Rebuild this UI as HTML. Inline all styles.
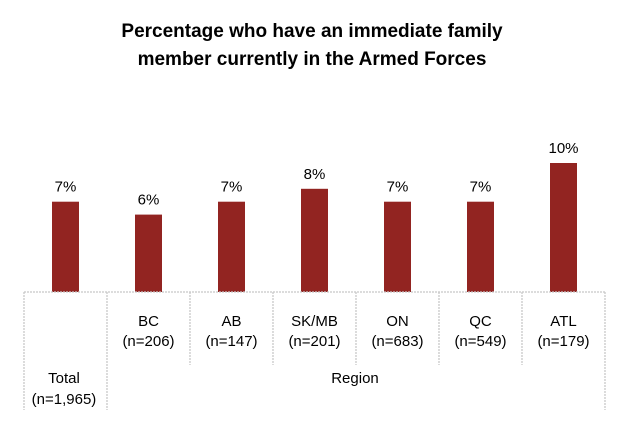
<!DOCTYPE html>
<html><head><meta charset="utf-8"><style>
body{margin:0;background:#fff;}
svg text{font-family:"Liberation Sans",sans-serif;fill:#000;}
</style></head><body>
<svg width="620" height="421" viewBox="0 0 620 421">
<text x="312" y="37" text-anchor="middle" font-size="19" font-weight="bold">Percentage who have an immediate family</text>
<text x="312" y="65" text-anchor="middle" font-size="19" font-weight="bold">member currently in the Armed Forces</text>
<g id="bars"></g>
<g id="axis" stroke="#c8c8c8" stroke-width="1.3" stroke-dasharray="2,1"></g>
<g id="labels"></g>
<text x="64" y="383" text-anchor="middle" font-size="15">Total</text>
<text x="64" y="404" text-anchor="middle" font-size="15">(n=1,965)</text>
<text x="355" y="383" text-anchor="middle" font-size="15">Region</text>
</svg>
<script>
const categories=["Total","BC","AB","SK/MB","ON","QC","ATL"];
const sampleSizes=["","(n=206)","(n=147)","(n=201)","(n=683)","(n=549)","(n=179)"];
const values=[7,6,7,8,7,7,10];
const NS="http://www.w3.org/2000/svg";
const x0=24,step=83,base=292,pxPer=12.9,bw=27;
const xc=i=>x0+step*i+step/2;
const y=v=>base-v*pxPer;
const bars=document.getElementById('bars'),axis=document.getElementById('axis'),labels=document.getElementById('labels');
function mk(tag,attrs,parent){const e=document.createElementNS(NS,tag);for(const k in attrs)e.setAttribute(k,attrs[k]);parent.appendChild(e);return e;}
values.forEach((v,i)=>{
  const r=mk('rect',{x:xc(i)-bw/2,y:y(v),width:bw,height:base-y(v),fill:'#922421'},bars);
  
  
  const t=mk('text',{x:xc(i),y:y(v)-10,'text-anchor':'middle','font-size':15},labels);
  t.textContent=v+'%';
  
  
  if(i>0){
    const c=mk('text',{x:xc(i),y:326,'text-anchor':'middle','font-size':15},labels);
    c.textContent=categories[i];
    
    
    const n=mk('text',{x:xc(i),y:346,'text-anchor':'middle','font-size':15},labels);
    n.textContent=sampleSizes[i];
    
    
  }
});
const hl=mk('line',{x1:x0,x2:x0+step*categories.length,y1:base,y2:base},axis);


for(let i=0;i<=categories.length;i++){
  const outer=(i===0||i===1||i===categories.length);
  const l=mk('line',{x1:x0+step*i,x2:x0+step*i,y1:base,y2:outer?410:365},axis);
  
  
}
</script>
</body></html>
